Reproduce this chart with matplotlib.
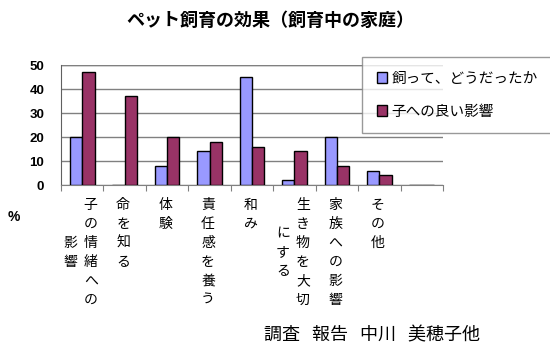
import numpy as np
import matplotlib.pyplot as plt
import matplotlib.transforms as mtransforms

plt.rcParams['font.family'] = ['Noto Sans CJK JP', 'DejaVu Sans']

# data (%)
categories = ["子の情緒への影響", "命を知る", "体験", "責任感を養う", "和み",
              "生き物を大切にする", "家族への影響", "その他", ""]
how_was_it = [20, 0, 8, 14, 45, 2, 20, 6, 0]
child_effect = [47, 37, 20, 18, 16, 14, 8, 4, 0]
series_names = ["飼って、どうだったか", "子への良い影響"]
yticks = [0, 10, 20, 30, 40, 50]

title = "ペット飼育の効果（飼育中の家庭）"
source = "調査   報告   中川   美穂子他"

BLUE = "#9999FF"
PLUM = "#993366"

fig = plt.figure(figsize=(5.5, 3.51), dpi=100)
ax = fig.add_axes([61 / 550, 1 - 185 / 351, 382 / 550, 120 / 351])

x = np.arange(len(categories))
w = 0.29
b1 = ax.bar(x - w / 2, how_was_it, w, color=BLUE, edgecolor='black', linewidth=1, zorder=3,
            label=series_names[0])
b2 = ax.bar(x + w / 2, child_effect, w, color=PLUM, edgecolor='black', linewidth=1, zorder=3,
            label=series_names[1])

ax.set_xlim(-0.5, len(categories) - 0.5)
ax.set_ylim(0, 50)
ax.set_yticks(yticks)
ax.set_yticklabels([str(v) for v in yticks], fontsize=9.5, fontweight='bold',
                   family=['Liberation Sans', 'DejaVu Sans'])
ax.tick_params(axis='y', length=0, pad=12)
ax.set_xticks(np.arange(len(categories) + 1) - 0.5)
ax.set_xticklabels([])
ax.tick_params(axis='x', length=4, color='#808080', direction='out')
ax.yaxis.grid(True, color='#808080', linewidth=1, zorder=0)
for s in ['top', 'right']:
    ax.spines[s].set_visible(False)
ax.spines['left'].set_color('#606060')
ax.spines['bottom'].set_color('#808080')
ax.axhline(50, color='#808080', linewidth=1, zorder=0)

# vertical (tategaki) category labels, wrapped every 6 chars, columns right to left
trans = mtransforms.blended_transform_factory(ax.transData, fig.transFigure)
px = (len(categories)) / 382  # data units per pixel
row0 = 1 - 205 / 351
row_h = 19 / 351
col_gap = 20 * px
for i, cat in enumerate(categories):
    if not cat:
        continue
    cols = [cat[k:k + 6] for k in range(0, len(cat), 6)]
    n1 = len(cols[0])
    x0 = i - 1.5 * px + (len(cols) - 1) / 2 * col_gap
    for j, col in enumerate(cols):
        start = (n1 - len(col)) / 2
        for r, ch in enumerate(col):
            ax.text(x0 - j * col_gap, row0 - (start + r) * row_h, ch, transform=trans,
                    ha='center', va='center', fontsize=10, clip_on=False)

fig.text(14 / 550, 1 - 217 / 351, "%", fontsize=10, fontweight='bold',
         family=['Liberation Sans', 'DejaVu Sans'], ha='center', va='center')

fig.text(270 / 550, 1 - 20 / 351, title, fontsize=13, fontweight='bold', ha='center', va='center')

fig.text(264 / 550, 1 - 335 / 351, source, fontsize=13, ha='left', va='center')

leg = fig.legend(handles=[b1, b2], loc='upper left', bbox_to_anchor=(362 / 550, 1 - 57 / 351),
                 borderaxespad=0, fancybox=False, fontsize=10.5, handlelength=0.7,
                 handleheight=0.7, handletextpad=0.3, labelspacing=1.3, borderpad=1.0)
leg.get_frame().set_edgecolor('#808080')
leg.get_frame().set_linewidth(1)

fig.savefig("out.png", dpi=100)
